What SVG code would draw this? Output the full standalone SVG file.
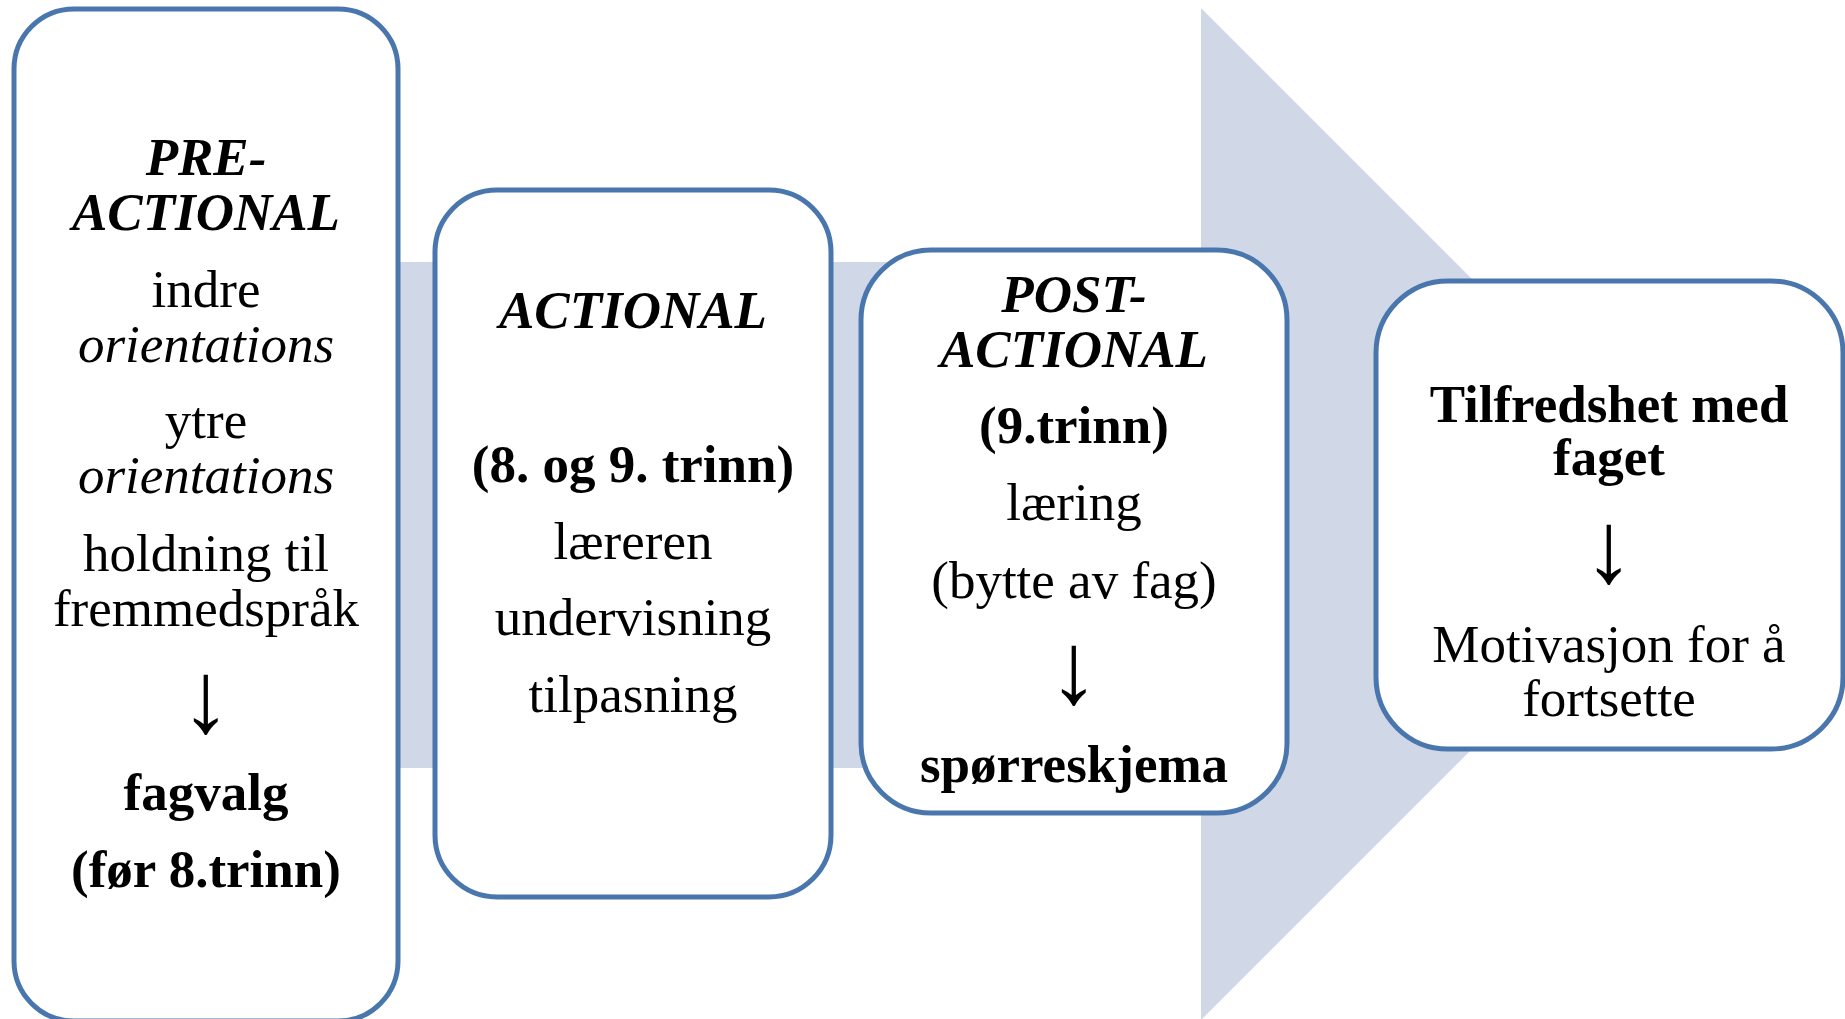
<svg xmlns="http://www.w3.org/2000/svg" width="1845" height="1019" viewBox="0 0 1845 1019">
<style>
.box{fill:#FFFFFF;stroke:#4A76AE;stroke-width:5}
.bg{fill:#D0D8E8}
text{font-family:"Liberation Serif","Times New Roman",serif;font-size:53px;fill:#000000;text-anchor:middle}
.b{font-weight:bold}
.i{font-style:italic}
.bi{font-weight:bold;font-style:italic}
.arr{font-size:102px}
</style>
<rect x="0" y="0" width="1845" height="1019" fill="#FFFFFF"/>
<g id="connectors">
<path id="process-arrow" class="bg" d="M200 262 L1201 262 L1201 8 L1707 514 L1201 1020 L1201 768 L200 768 Z"/>
</g>
<g id="node-preactional">
<rect class="box" x="14" y="9" width="384" height="1012" rx="60" ry="60"/>
<text x="206" y="175" class="bi">PRE-</text>
<text x="206" y="230" class="bi">ACTIONAL</text>
<text x="206" y="307">indre</text>
<text x="206" y="362" class="i">orientations</text>
<text x="206" y="438">ytre</text>
<text x="206" y="493" class="i">orientations</text>
<text x="206" y="571">holdning til</text>
<text x="206" y="626">fremmedspråk</text>
<text x="206" y="732" class="arr">↓</text>
<text x="206" y="810" class="b">fagvalg</text>
<text x="206" y="887" class="b">(før 8.trinn)</text>
</g>
<g id="node-actional">
<rect class="box" x="435" y="190" width="396" height="707" rx="62" ry="62"/>
<text x="633" y="328" class="bi">ACTIONAL</text>
<text x="633" y="482" class="b">(8. og 9. trinn)</text>
<text x="633" y="559">læreren</text>
<text x="633" y="635">undervisning</text>
<text x="633" y="712">tilpasning</text>
</g>
<g id="node-postactional">
<rect class="box" x="861" y="250" width="426" height="563" rx="70" ry="70"/>
<text x="1074" y="312" class="bi">POST-</text>
<text x="1074" y="367" class="bi">ACTIONAL</text>
<text x="1074" y="443" class="b">(9.trinn)</text>
<text x="1074" y="520">læring</text>
<text x="1074" y="598">(bytte av fag)</text>
<text x="1074" y="703" class="arr">↓</text>
<text x="1074" y="782" class="b">spørreskjema</text>
</g>
<g id="node-tilfredshet">
<rect class="box" x="1376" y="281" width="467" height="468" rx="72" ry="72"/>
<text x="1609" y="422" class="b">Tilfredshet med</text>
<text x="1609" y="475" class="b">faget</text>
<text x="1609" y="582" class="arr">↓</text>
<text x="1609" y="662">Motivasjon for å</text>
<text x="1609" y="716">fortsette</text>
</g>
</svg>
